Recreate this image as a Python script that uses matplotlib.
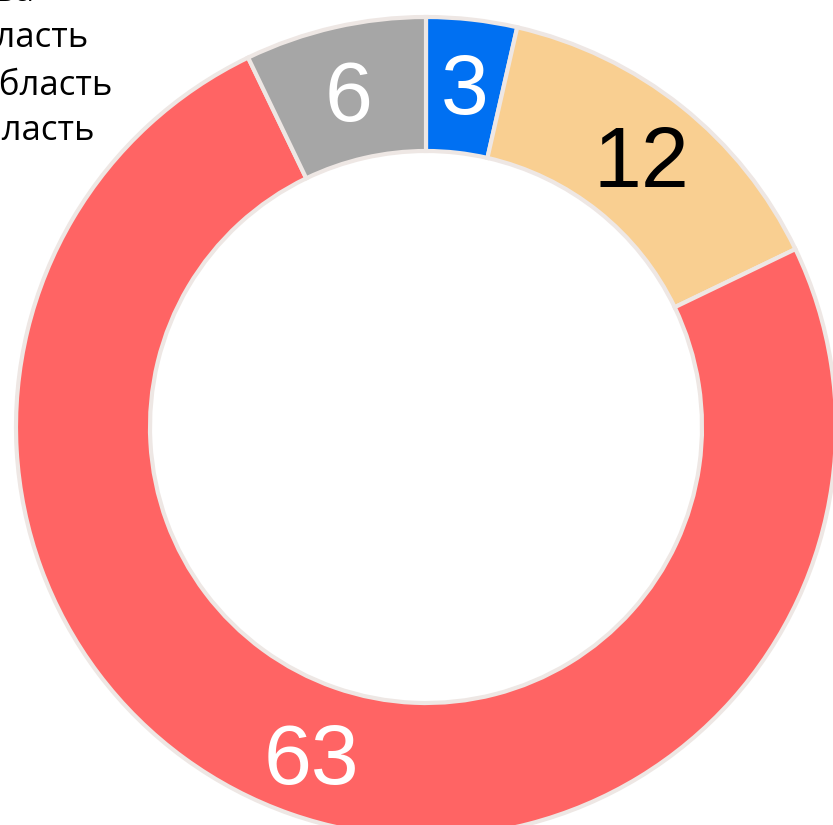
import numpy as np
import matplotlib.pyplot as plt

values = [3, 12, 63, 6]
colors = ['#0070F2', '#F9CF91', '#FF6464', '#A6A6A6']
label_colors = ['white', 'black', 'white', 'white']
legend_labels = ['Москва', 'Московская область', 'Ленинградская область', 'Тверская область']

fig = plt.figure(figsize=(8.33, 8.25), dpi=100)
ax = fig.add_axes([0, 0, 1, 1])

# axes units = pixels (y up)
cx, cy = 426, 825 - 427
r_out, r_in = 410, 276
wedges, _ = ax.pie(values, colors=colors, startangle=90, counterclock=False,
                   center=(cx, cy), radius=r_out, frame=True,
                   wedgeprops=dict(width=r_out - r_in, edgecolor='#EEE7E4', linewidth=3))
ax.set_xlim(0, 833)
ax.set_ylim(0, 825)
ax.set_aspect('equal')
ax.axis('off')

fs = 62
half_digit = 0.358 * fs * 100 / 72   # half the digit height in pixels
r_lab = 346
for w, v, c in zip(wedges, values, label_colors):
    ang = np.deg2rad((w.theta1 + w.theta2) / 2)
    ax.text(cx + r_lab * np.cos(ang), cy + r_lab * np.sin(ang) - half_digit, str(v),
            ha='center', va='baseline', fontsize=fs, color=c, family='Liberation Sans')

# legend, cut off by the left edge
ends = [35, 88, 112, 94]
baselines = [1, 47, 95, 140]
for lab, x, y in zip(legend_labels, ends, baselines):
    ax.text(x, 825 - y, lab, ha='right', va='baseline', fontsize=25,
            family='Open Sans', color='black')

fig.savefig('out.png', dpi=100)
